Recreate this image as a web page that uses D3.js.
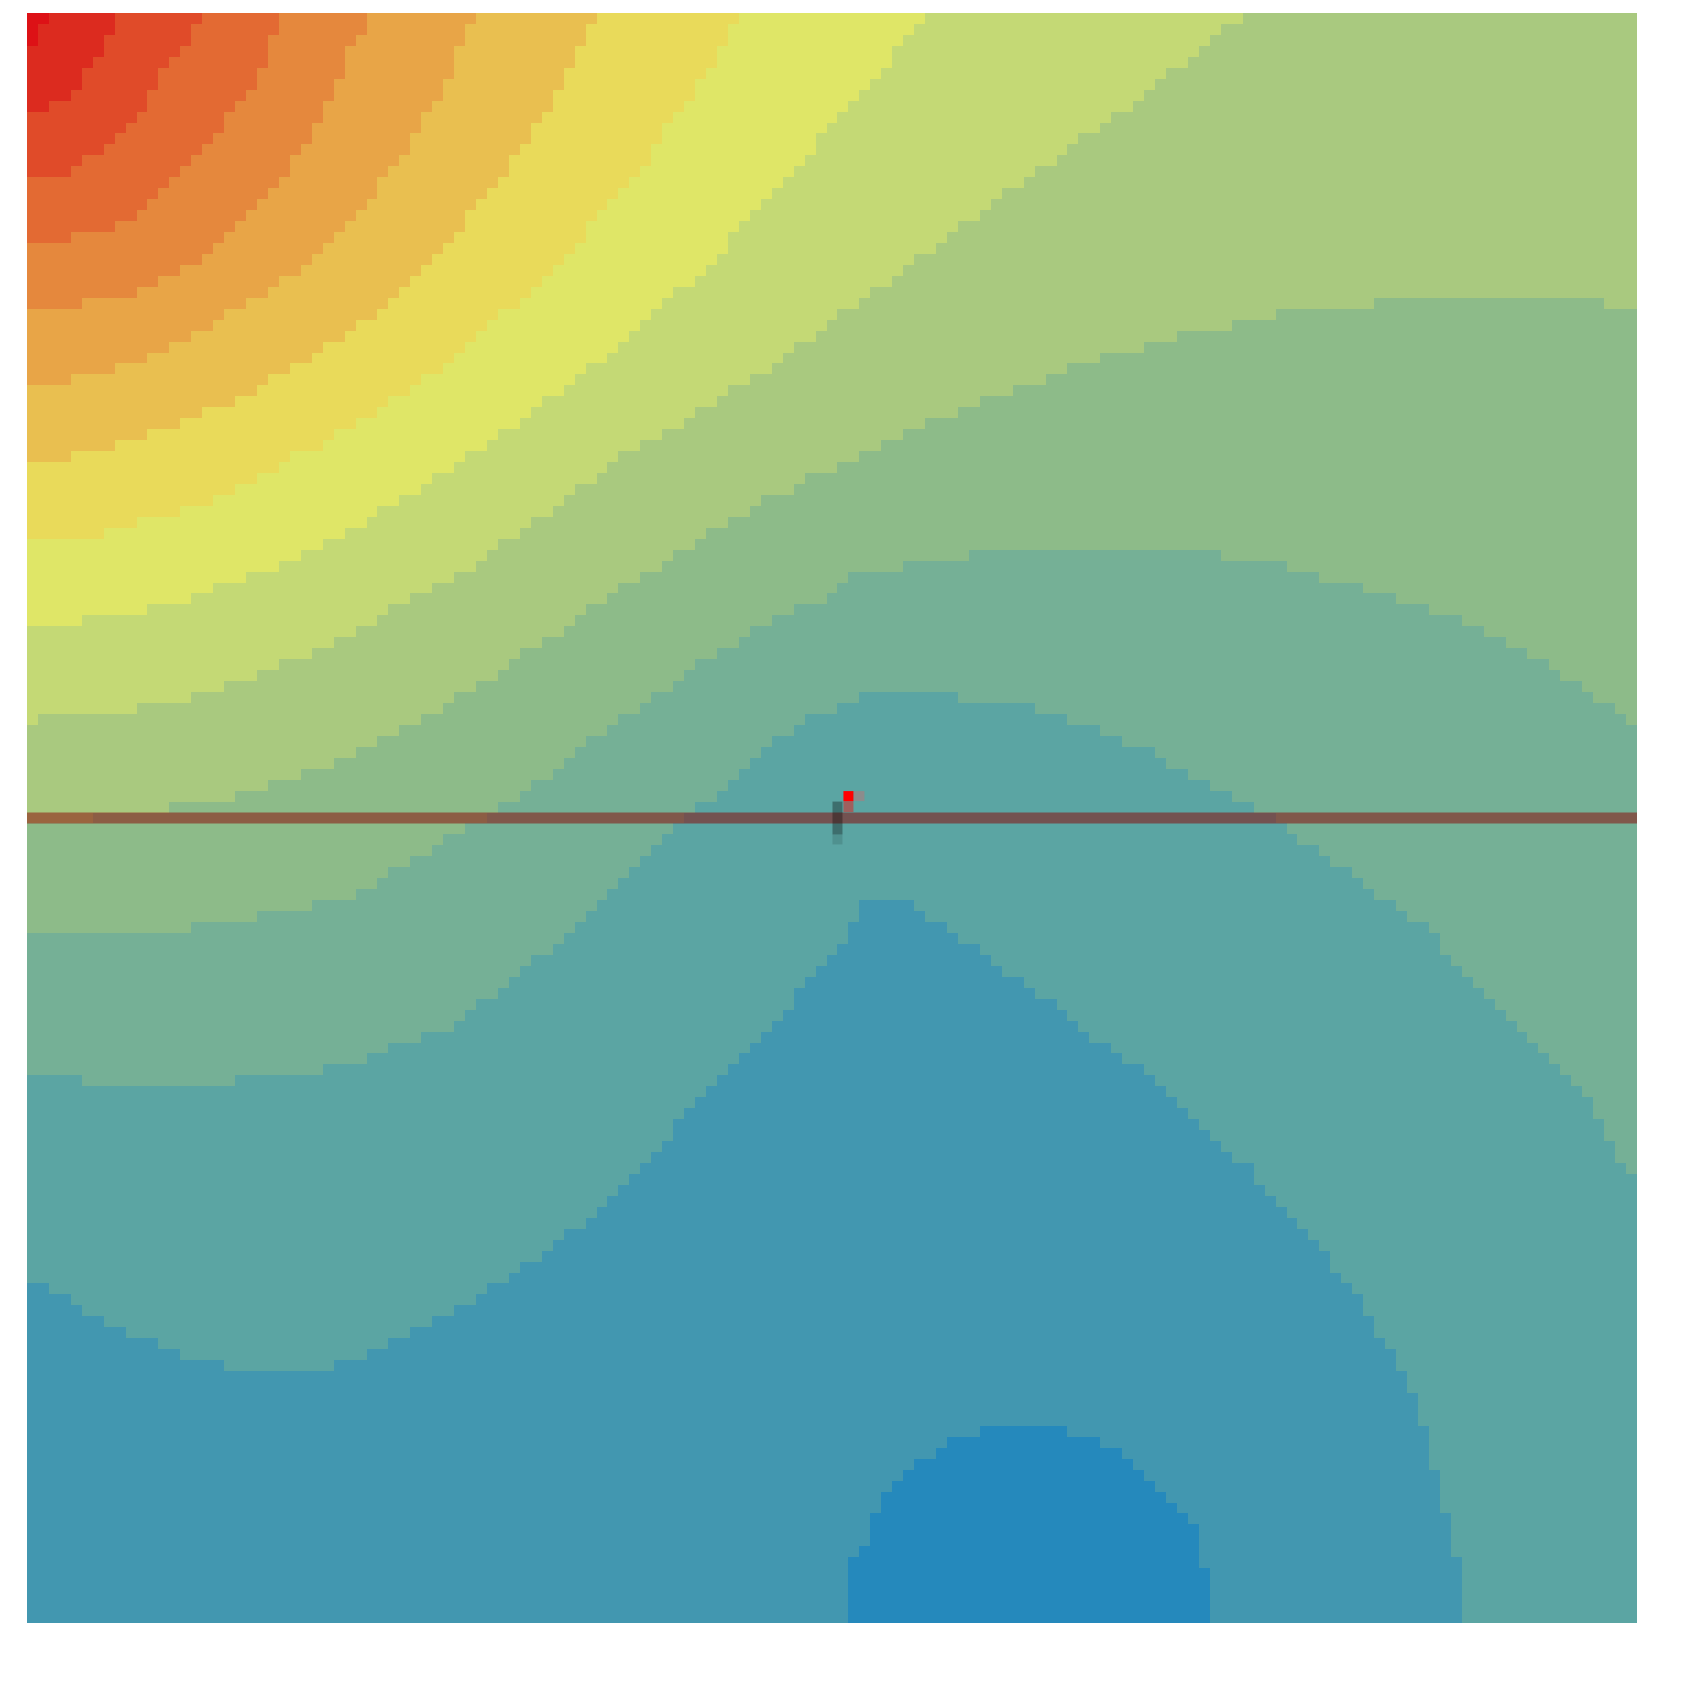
<!DOCTYPE html>
<html>
  <head>
    <meta charset="utf-8" />
    <script src="https://d3js.org/d3.v7.min.js"></script>
    <style>
      body {
        margin: 0;
        background-color: white;
      }
      #canvas {
        display: block;
      }
    </style>
  </head>
  <body>
    <svg id="canvas" width="1699" height="1699"></svg>

    <script>
      // field is a gridSize x gridSize raster of banded levels
      const gridSize = 147;

      // band edges, as [column, row] where the edge crosses each grid row
      // bound0 separates level 0 (below) from level 1 (above), and so on
      const bound0 = [[74.5,148],[75.05,141],[76.5,140],[77.5,137],[78.5,135],[79.5,134],[80.4,133],[81.4,132],[83.4,131],[84.4,130],[87.4,129],[95.3,129],[98.2,130],[100.2,131],[101.2,132],[102.2,133],[104.2,135],[105.2,136],[106.2,137],[107.2,140],[108.1,146],[109,148]];
      const bound1 = [[0,115.6],[2,116],[4,117],[5,118],[7,119],[9,120],[12,121],[14,122],[18,123],[18.6,123.9],[25.4,123.9],[28,123],[31,122],[33,121],[35,120],[37,119],[39,118],[41,117],[42,116],[44,115],[45,114],[47,113],[48,112],[49,111],[51,110],[52,109],[53,108],[54,107],[55,106],[56,105],[57,104],[58,103],[59,102],[60,100],[61,99],[62,98],[63,97],[64,96],[65,95],[66,94],[67,93],[68,92],[69,91],[70,90],[70.5,89],[71,88],[72,87],[73,86],[74,85],[75,84],[75.5,83],[76,82],[76.5,81],[81.4,81],[82.4,82],[83.9,83],[85.4,84],[86.9,85],[88.4,86],[89.3,87],[90.8,88],[92.3,89],[93.8,90],[95.3,91],[96.3,92],[97.3,93],[99.2,94],[100.2,95],[101.7,96],[103.2,97],[104.2,98],[105.2,99],[106.2,100],[107.2,101],[108.1,102],[109.2,103],[110.2,104],[111.7,105],[112.2,106],[113.2,107],[114.2,108],[115.2,109],[116.2,110],[117.1,111],[118.1,112],[118.6,113],[119.1,114],[120.1,115],[121.1,116],[122.1,118],[123.1,120],[124.1,121],[125,123],[126,125],[127,127],[128,131],[129,134],[130,140],[130.9,141],[131.1,148],[147,148]];
      const bound2 = [[0,97],[4.6,97],[5.4,97.95],[18.8,97.95],[19.5,97],[27,96],[31,95],[33,94],[36,93],[39,92],[40,91],[41,90],[43,89],[44,88],[45,87],[46,86],[48,85],[49,84],[50,83],[51,82],[52,81],[53,80],[54,79],[55,78],[56,77],[57,76],[58,75],[59,74],[60,73],[61,72],[63,71],[64,70],[65,69],[66,68],[67,67],[68,66],[70,65],[71,64],[74,63],[76.5,62],[84.5,62],[91.5,63],[94.4,64],[97.4,65],[100,66],[103,67],[104.3,68],[106.3,69],[108.3,70],[110.3,71],[112,72],[113.5,73],[115.2,74],[116.2,75],[118.2,76],[119.2,77],[120.7,78],[122.1,79],[123.1,80],[124.6,81],[126.1,82],[127.6,83],[128.6,84],[129.1,85],[130,86],[131,87],[132,88],[133,89],[134,90],[135,91],[136,92],[137,93],[138,94],[139,95],[140,96],[141,97],[142,98],[143,100],[144,101],[144.4,102],[145,104],[146,105],[147,106]];
      const bound3 = [[0,84],[15.5,83],[21,82],[26,81],[30,80],[32,79],[33,78],[35,77],[37,76],[38,75],[40,74],[42,73],[43,72],[45,71],[46,70],[48,69],[49,68],[50,67],[51,66],[53,65],[54,64],[56,63],[57,62],[59,61],[60,60],[61,59],[63,58],[65,57],[66,56],[68,55],[70,54],[73,53],[74,52],[75,51],[80,50],[86,49],[109,49],[115,50],[118,51],[122,52],[125,53],[128,54],[131,55],[132.5,56],[134.5,57],[137,58],[139,59],[140,60],[142,61],[143,62],[145,63],[146,64],[147,65]];
      const bound4 = [[0,74],[6,73],[13,72],[19,71],[22,70],[25,69],[28,68],[30,67],[32,66],[34,65],[36,64],[38,63],[39,62],[41,61],[43,60],[44,59],[45,58],[47,57],[49,56],[50,55],[51,54],[53,53],[54,52],[56,51],[58,50],[59,49],[61,48],[62,47],[64,46],[66,45],[67,44],[70,43],[71,42],[74,41],[76,40],[78,39],[80,38],[82,37],[85,36],[87,35],[90,34],[93,33],[95,32],[98,31],[102,30],[105,29],[110,28],[114,27],[123,26],[144,26],[147,26.8]];
      const bound5 = [[0,65],[1,64],[10,63],[15,62],[18,61],[21,60],[23.5,59],[26.5,58],[28.5,57],[30.5,56],[32.5,55],[33.5,54],[35.5,53],[37.5,52],[39.5,51],[41,50],[42,49],[43,48],[45,47],[46.5,46],[48.5,45],[49.5,44],[50.5,43],[52.5,42],[53.5,41],[54.5,40],[56.5,39],[58.5,38],[60.5,37],[61.5,36],[63.5,35],[64.5,34],[66.5,33],[68.5,32],[69.5,31],[70.5,30],[72.5,29],[73,28],[74,27],[75.6,26],[77.1,25],[78.6,24],[79.6,23],[81.6,22],[82.6,21],[84.5,20],[85.5,19],[87.5,18],[88.5,17],[89.5,16],[91.5,15],[92.5,14],[94,13],[95.4,12],[96.4,11],[97.9,10],[99.4,9],[100.9,8],[102.4,7],[103.3,6],[104.3,5],[105.8,4],[107.2,3],[108.2,2],[109.3,1],[110.8,0],[111.8,-1]];
      const bound6 = [[0,56],[5,55],[11,54],[15,53],[17,52],[20,51],[22.7,50],[25,49],[27,48],[28.9,47],[30.9,46],[31.9,45],[33.9,44],[35.9,43],[36.8,42],[38.8,41],[39.8,40],[41.8,39],[42.8,38],[44.8,37],[45.7,36],[46.7,35],[48.7,34],[49.7,33],[50.7,32],[52.7,31],[53.7,30],[54.6,29],[55.6,28],[57,27],[58,26],[59,25],[60.6,24],[61.6,23],[62.6,22],[63.6,21],[64.5,20],[65.5,19],[66.5,18],[67.5,17],[68.5,16],[69.5,15],[70.5,14],[71.5,13],[72.5,11],[73.4,10],[74.4,9],[75.5,8],[76.5,7],[77.5,6],[78.5,5],[79.5,3],[80.4,2],[81.4,1],[82.4,-1]];
      const bound7 = [[0,48],[7,47],[10,46],[14,45],[17,44],[19,43],[21,42],[23,41],[24,40],[27,39],[28,38],[30,37],[32,36],[33,35],[35,34],[36,33],[38,32],[39,31],[40,30],[41,29],[42,28],[43,27],[45,26],[46,25],[47,24],[48,23],[49,22],[50,21],[51,20],[52,18],[53,17],[54,16],[55,15],[56,14],[57,13],[58,11],[59,9],[60,8],[61,7],[62,5],[63,4],[64,2],[65,-1]];
      const bound8 = [[0,41],[4,40],[8,39],[11,38],[14,37],[16,36],[19,35],[21,34],[22,33],[24,32],[26,31],[27,30],[29,29],[30,28],[32,27],[33,26],[34,25],[35,24],[36,23],[37,22],[38,21],[39,20],[40,19],[41,17],[42,16],[43,15],[44,14],[45,12],[46,11],[47,9],[48,8],[49,6],[50,4],[51,2],[52,0],[53,-1]];
      const bound9 = [[0,34],[4,33],[8,32],[11,31],[13,30],[15,29],[17,28],[18,27],[20,26],[22,25],[23,24],[25,23],[26,22],[27,21],[28,20],[29,19],[30,18],[31,17],[32,16],[33,14],[34,13],[35,12],[36,10],[37,8],[38,7],[39,4],[40,2],[41,0],[42,-1]];
      const bound10 = [[0,27],[5,26],[10,25],[12,24],[14,23],[16,22],[17,21],[18,20],[19,19],[20,18],[21,17],[22,16],[23,15],[24,14],[25,12],[26,11],[27,9],[28,7],[29,4],[30,2],[31,1],[32,-1]];
      const bound11 = [[0,21],[4,20],[8,19],[10,18],[11,17],[12,16],[13,15],[14,14],[15,13],[16,12],[17,11],[18,10],[19,8],[20,7],[21,6],[22,3],[23,0],[24,-1]];
      const bound12 = [[0,15],[4,14],[5,13],[7,12],[8,11],[9,10],[10,9],[11,8],[12,6],[13,4],[14,3],[15,2],[16,-1]];
      const bound13 = [[0,9],[2,8],[4,7],[5,6],[6,4],[7,3],[8,1],[9,-1]];
      const bound14 = [[0,3],[1,2],[2,0],[3,-1]];

      // horizontal track across the field (grid row of its centre)
      const trackRow = 73.5;
      const trackCols = [0, gridSize];

      // start marker and its short trail, in grid units
      const startPoint = [75.0, 71.5];
      const trailCols = [74.0, 74.0];
      const trailRows = [72, 75];

      const palette = [
        "#2589bc", "#4297b0", "#5ba5a3", "#75b096", "#8dbb89", "#a9c97f",
        "#c4d975", "#dfe667", "#e9da5a", "#e9bf50", "#e8a547", "#e5883d",
        "#e36a33", "#e04b29", "#dc2b1f", "#dd1116"
      ];

      const bounds = [bound0, bound1, bound2, bound3, bound4, bound5, bound6,
        bound7, bound8, bound9, bound10, bound11, bound12, bound13, bound14];

      const svg = d3.select("#canvas");

      const xScale = d3.scaleLinear().domain([0, gridSize]).range([27, 1637]);
      const yScale = d3.scaleLinear().domain([0, gridSize]).range([13, 1623]);
      const color = d3.scaleOrdinal().domain(d3.range(palette.length)).range(palette);

      const curves = bounds.map((pts) =>
        d3.scaleLinear()
          .domain(pts.map((p) => p[0]))
          .range(pts.map((p) => p[1]))
          .clamp(true)
      );

      // run-length rows of each column into same-level blocks
      let blocks = [];
      for (let c = 0; c < gridSize; c++) {
        let limits = curves.map((f) => f(c + 0.5));
        let start = 0;
        let prev = null;
        for (let r = 0; r <= gridSize; r++) {
          let lvl = r < gridSize ? limits.filter((b) => r < b - 0.05).length : -1;
          if (lvl !== prev) {
            if (prev !== null) blocks.push({ c: c, r0: start, r1: r, level: prev });
            start = r;
            prev = lvl;
          }
        }
      }

      const px = (v) => Math.round(xScale(v));
      const py = (v) => Math.round(yScale(v));

      svg.append("g")
        .attr("class", "field")
        .selectAll("rect")
        .data(blocks)
        .join("rect")
        .attr("x", (d) => px(d.c))
        .attr("width", (d) => px(d.c + 1) - px(d.c))
        .attr("y", (d) => py(d.r0))
        .attr("height", (d) => py(d.r1) - py(d.r0))
        .attr("fill", (d) => color(d.level))
        .attr("shape-rendering", "crispEdges");

      // Track line
      const cell = yScale(1) - yScale(0);
      const trackLine = d3.line()
        .x((d) => xScale(d))
        .y(() => yScale(trackRow));

      svg.append("path")
        .datum(trackCols)
        .attr("d", trackLine)
        .style("fill", "none")
        .style("stroke", "#8b0000")
        .style("stroke-opacity", 0.5)
        .style("stroke-width", cell + "px");

      // Trail below the marker
      svg.append("line")
        .attr("x1", xScale(trailCols[0]))
        .attr("x2", xScale(trailCols[1]))
        .attr("y1", yScale(trailRows[0]))
        .attr("y2", yScale(trailRows[1]))
        .style("stroke", "black")
        .style("stroke-opacity", 0.33)
        .style("stroke-width", "10px");

      svg.append("rect")
        .attr("x", xScale(trailCols[1]) - 5)
        .attr("y", yScale(trailRows[1]))
        .attr("width", 10)
        .attr("height", 10)
        .attr("fill", "black")
        .attr("fill-opacity", 0.12);

      // Marker halo and dot
      svg.append("rect")
        .attr("x", xScale(startPoint[0]) + 5)
        .attr("y", yScale(startPoint[1]) - 5)
        .attr("width", 11)
        .attr("height", 10)
        .attr("fill", "#8c8c8c");

      svg.append("rect")
        .attr("x", xScale(startPoint[0]) - 5)
        .attr("y", yScale(startPoint[1]) + 5)
        .attr("width", 10)
        .attr("height", 11)
        .attr("fill", "red")
        .attr("fill-opacity", 0.42);

      svg.append("rect")
        .attr("x", xScale(startPoint[0]) - 5)
        .attr("y", yScale(startPoint[1]) - 5)
        .attr("width", 10)
        .attr("height", 10)
        .attr("fill", "red");
    </script>
  </body>
</html>
